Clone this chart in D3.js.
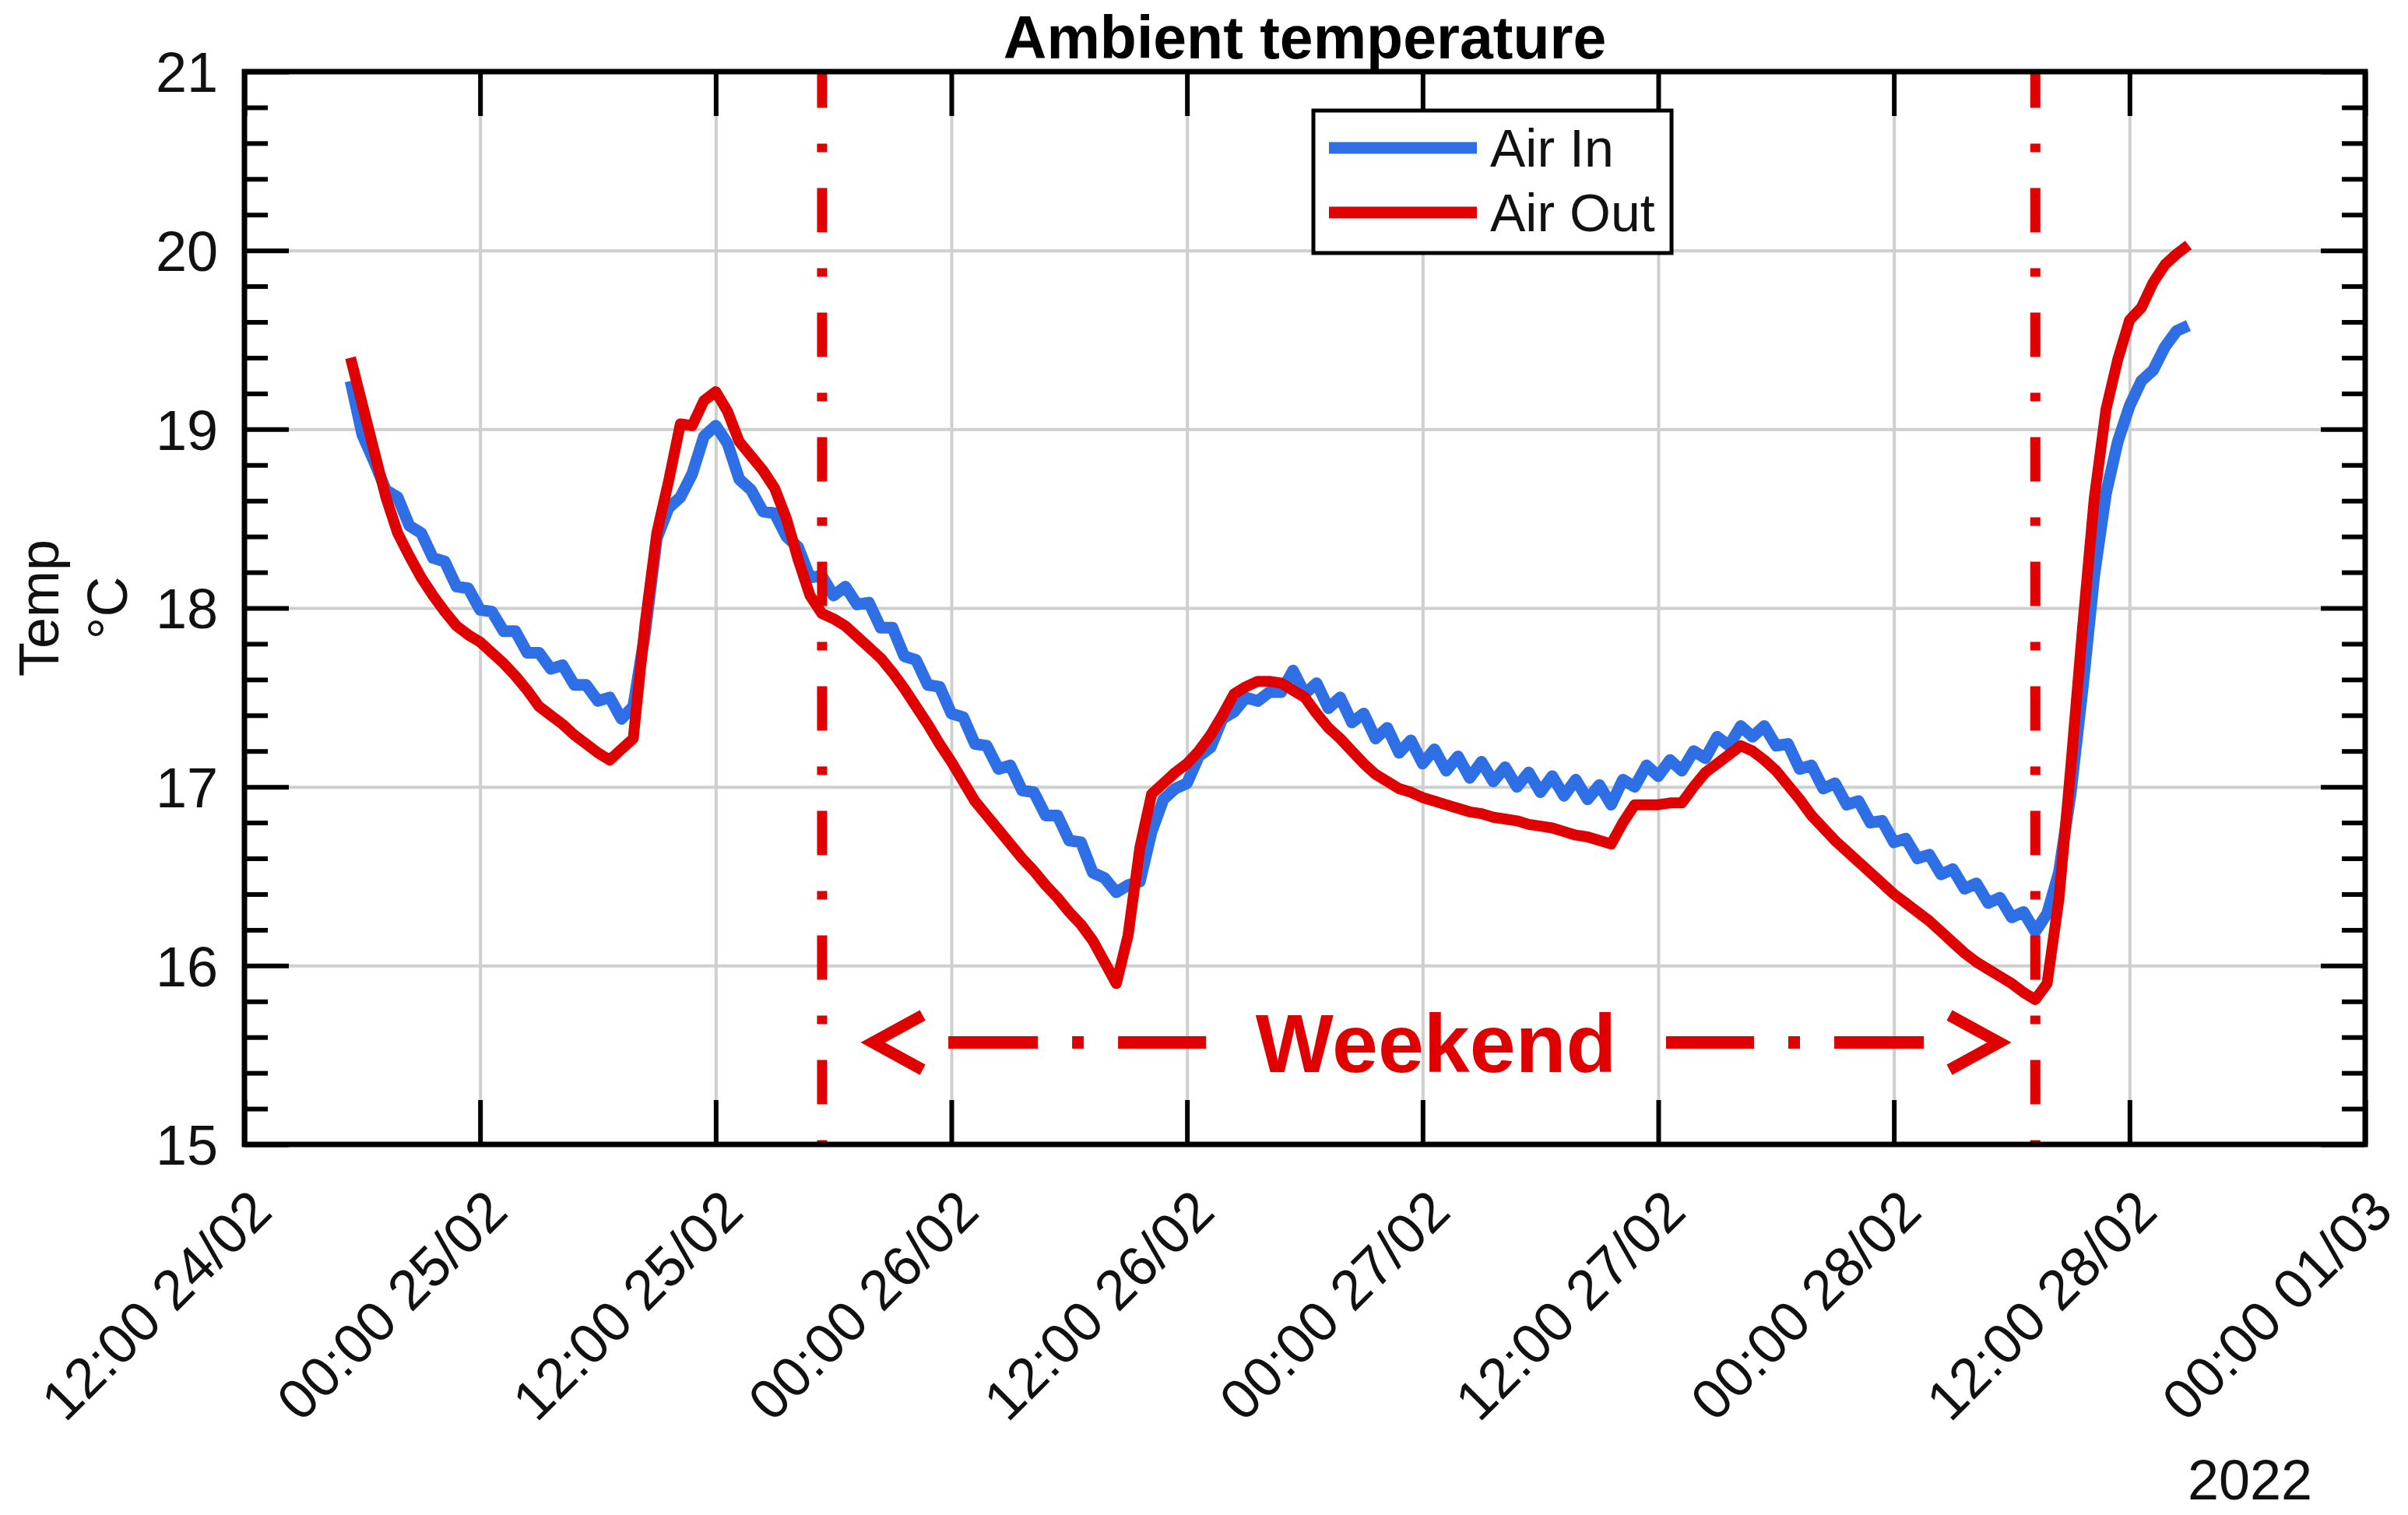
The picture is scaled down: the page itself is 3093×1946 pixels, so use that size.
<!DOCTYPE html>
<html>
<head>
<meta charset="utf-8">
<title>Ambient temperature</title>
<script src="https://d3js.org/d3.v7.min.js"></script>
<style>
  body { margin: 0; background: #fff; }
  svg { display: block; font-family: 'Liberation Sans', Arial, Helvetica, sans-serif; }
</style>
</head>
<body>
<svg id="chart"></svg>
<script>
// logger samples, one every 36 min starting 17:24 on 24/02
var sampleStart = '2022-02-24 17:24';
var sampleStepMin = 36;

var airIn = [
  19.27, 18.97, 18.82, 18.66, 18.62, 18.46, 18.42, 18.28, 18.26, 18.12,
  18.11, 17.99, 17.98, 17.87, 17.87, 17.75, 17.75, 17.66, 17.68, 17.57,
  17.57, 17.48, 17.50, 17.38, 17.45, 17.86, 18.39, 18.56, 18.62, 18.75,
  18.96, 19.02, 18.92, 18.72, 18.66, 18.54, 18.53, 18.40, 18.34, 18.17,
  18.18, 18.07, 18.12, 18.02, 18.03, 17.89, 17.89, 17.73, 17.71, 17.57,
  17.56, 17.41, 17.39, 17.24, 17.23, 17.10, 17.12, 16.98, 16.97, 16.84,
  16.84, 16.70, 16.69, 16.52, 16.49, 16.41, 16.45, 16.47, 16.75, 16.93,
  16.99, 17.02, 17.17, 17.22, 17.38, 17.42, 17.50, 17.48, 17.53, 17.53,
  17.65, 17.52, 17.58, 17.44, 17.50, 17.36, 17.41, 17.27, 17.33, 17.19,
  17.26, 17.13, 17.21, 17.09, 17.17, 17.05, 17.14, 17.03, 17.11, 17.00,
  17.08, 16.97, 17.06, 16.95, 17.04, 16.93, 17.01, 16.90, 17.04, 17.00,
  17.12, 17.06, 17.15, 17.09, 17.20, 17.16, 17.28, 17.23, 17.34, 17.28,
  17.34, 17.23, 17.24, 17.10, 17.12, 16.99, 17.02, 16.90, 16.92, 16.80,
  16.81, 16.69, 16.71, 16.60, 16.62, 16.51, 16.54, 16.43, 16.46, 16.35,
  16.38, 16.27, 16.30, 16.19, 16.29, 16.52, 16.96, 17.54, 18.18, 18.64,
  18.93, 19.13, 19.27, 19.33, 19.46, 19.55, 19.58
];

var airOut = [
  19.40, 19.14, 18.88, 18.62, 18.42, 18.29, 18.17, 18.07, 17.98, 17.90,
  17.85, 17.81, 17.75, 17.69, 17.62, 17.54, 17.45, 17.40, 17.35, 17.29,
  17.24, 17.19, 17.15, 17.21, 17.27, 17.91, 18.42, 18.71, 19.03, 19.02,
  19.16, 19.21, 19.10, 18.93, 18.85, 18.77, 18.67, 18.50, 18.27, 18.07,
  17.97, 17.94, 17.90, 17.84, 17.78, 17.72, 17.64, 17.55, 17.45, 17.35,
  17.24, 17.14, 17.03, 16.92, 16.84, 16.76, 16.68, 16.60, 16.53, 16.45,
  16.38, 16.30, 16.23, 16.14, 16.02, 15.90, 16.17, 16.66, 16.96, 17.02,
  17.08, 17.13, 17.20, 17.29, 17.40, 17.52, 17.56, 17.59, 17.59, 17.58,
  17.54, 17.50, 17.41, 17.33, 17.27, 17.20, 17.13, 17.07, 17.03, 16.99,
  16.97, 16.94, 16.92, 16.90, 16.88, 16.86, 16.85, 16.83, 16.82, 16.81,
  16.79, 16.78, 16.77, 16.75, 16.73, 16.72, 16.70, 16.68, 16.80, 16.90,
  16.90, 16.90, 16.91, 16.91, 17.00, 17.08, 17.13, 17.18, 17.23, 17.20,
  17.15, 17.09, 17.01, 16.93, 16.84, 16.77, 16.70, 16.64, 16.58, 16.52,
  16.46, 16.40, 16.35, 16.30, 16.25, 16.19, 16.13, 16.07, 16.02, 15.98,
  15.94, 15.90, 15.85, 15.81, 15.90, 16.37, 17.10, 17.88, 18.61, 19.11,
  19.39, 19.61, 19.68, 19.82, 19.92, 19.98, 20.03
];

var seriesNames = ['Air In', 'Air Out'];

var xTicks = [
  '2022-02-24 12:00', '2022-02-25 00:00', '2022-02-25 12:00', '2022-02-26 00:00',
  '2022-02-26 12:00', '2022-02-27 00:00', '2022-02-27 12:00', '2022-02-28 00:00',
  '2022-02-28 12:00', '2022-03-01 00:00'
];
var yTicks = [15, 16, 17, 18, 19, 20, 21];
var yMinorTicks = [15.2, 15.4, 15.6, 15.8, 16.2, 16.4, 16.6, 16.8, 17.2, 17.4, 17.6, 17.8,
                   18.2, 18.4, 18.6, 18.8, 19.2, 19.4, 19.6, 19.8, 20.2, 20.4, 20.6, 20.8];

var weekendBounds = ['2022-02-25 17:25', '2022-02-28 07:12'];
var weekendArrow = ['2022-02-25 20:00', '2022-02-28 05:22'];
var weekendArrowTemp = 15.57;
var weekendLabel = 'Weekend';
var titleText = 'Ambient temperature';
var yLabelLines = ['Temp', '\u00B0C'];
var yearLabel = '2022';

var blue = '#2e6fe6';
var red = '#e00000';

var width = 3093;
var height = 1946;
var margin = { top: 92, right: 55, bottom: 476, left: 314 };
var innerWidth = width - margin.left - margin.right;
var innerHeight = height - margin.top - margin.bottom;

var parse = d3.timeParse('%Y-%m-%d %H:%M');
var fmt = d3.timeFormat('%H:%M %d/%m');
var xTickDates = xTicks.map(parse);
var t0 = parse(sampleStart);
var times = airIn.map(function(d, i) { return d3.timeMinute.offset(t0, i * sampleStepMin); });

var svg = d3.select('#chart')
  .attr('width', width)
  .attr('height', height);

svg.append('rect').attr('width', width).attr('height', height).attr('fill', '#fff');

var chart = svg.append('g')
  .attr('transform', 'translate(' + margin.left + ',' + margin.top + ')');

var x = d3.scaleTime()
  .domain([xTickDates[0], xTickDates[xTickDates.length - 1]])
  .range([0, innerWidth]);

var y = d3.scaleLinear()
  .domain([15, 21])
  .range([innerHeight, 0]);

// tick-only axes: drop the domain path and the empty labels
function bare(g) {
  g.select('.domain').remove();
  g.selectAll('text').remove();
}

// grid
var grid = chart.append('g');
grid.append('g')
  .attr('transform', 'translate(0,' + innerHeight + ')')
  .call(d3.axisBottom(x).tickValues(xTickDates).tickSize(-innerHeight))
  .call(bare);
grid.append('g')
  .call(d3.axisLeft(y).tickValues(yTicks).tickSize(-innerWidth))
  .call(bare);
grid.selectAll('line').attr('stroke', '#cfcfcf').attr('stroke-width', 4);

// data
var line = d3.line()
  .x(function(d, i) { return x(times[i]); })
  .y(function(d) { return y(d); });

chart.append('path')
  .datum(airIn)
  .attr('d', line)
  .attr('fill', 'none')
  .attr('stroke', blue)
  .attr('stroke-width', 15)
  .attr('stroke-linejoin', 'round');

chart.append('path')
  .datum(airOut)
  .attr('d', line)
  .attr('fill', 'none')
  .attr('stroke', red)
  .attr('stroke-width', 14)
  .attr('stroke-linejoin', 'round');

// weekend markers
weekendBounds.forEach(function(s) {
  var xx = x(parse(s));
  chart.append('line')
    .attr('x1', xx).attr('x2', xx)
    .attr('y1', innerHeight).attr('y2', 0)
    .attr('stroke', red)
    .attr('stroke-width', 13)
    .attr('stroke-dasharray', '11,46,57,46')
    .attr('stroke-dashoffset', 5.5);
});

var ay = y(weekendArrowTemp);
var axl = x(parse(weekendArrow[0]));
var axr = x(parse(weekendArrow[1]));
var arrow = chart.append('g')
  .attr('stroke', red)
  .attr('fill', 'none');
arrow.append('path')
  .attr('d', 'M' + (axl + 64) + ',' + (ay - 35) + 'L' + axl + ',' + ay + 'L' + (axl + 64) + ',' + (ay + 35))
  .attr('stroke-width', 15);
arrow.append('path')
  .attr('d', 'M' + (axr - 64) + ',' + (ay - 35) + 'L' + axr + ',' + ay + 'L' + (axr - 64) + ',' + (ay + 35))
  .attr('stroke-width', 15);
arrow.append('line')
  .attr('x1', axl + 97).attr('x2', axl + 428)
  .attr('y1', ay).attr('y2', ay)
  .attr('stroke-width', 16)
  .attr('stroke-dasharray', '115,44,15,44');
arrow.append('line')
  .attr('x1', axr - 97).attr('x2', axr - 428)
  .attr('y1', ay).attr('y2', ay)
  .attr('stroke-width', 16)
  .attr('stroke-dasharray', '115,44,15,44');
chart.append('text')
  .attr('x', (axl + axr) / 2)
  .attr('y', ay)
  .attr('dy', '0.36em')
  .attr('text-anchor', 'middle')
  .attr('fill', red)
  .style('font-size', '106px')
  .style('font-weight', 'bold')
  .text(weekendLabel);

// ticks on all four sides, pointing inward
var tickLen = 57;
var minorLen = 30;
var ticks = chart.append('g');
ticks.append('g')
  .attr('transform', 'translate(0,' + innerHeight + ')')
  .call(d3.axisBottom(x).tickValues(xTickDates).tickSize(-tickLen))
  .call(bare);
ticks.append('g')
  .call(d3.axisTop(x).tickValues(xTickDates).tickSize(-tickLen))
  .call(bare);
ticks.append('g')
  .attr('class', 'y-left')
  .call(d3.axisLeft(y).tickValues(yTicks).tickSize(-tickLen).tickPadding(34).tickFormat(d3.format('d')))
  .call(function(g) { g.select('.domain').remove(); });
ticks.append('g')
  .call(d3.axisLeft(y).tickValues(yMinorTicks).tickSize(-minorLen))
  .call(bare);
ticks.append('g')
  .attr('transform', 'translate(' + innerWidth + ',0)')
  .call(d3.axisRight(y).tickValues(yTicks).tickSize(-tickLen))
  .call(bare);
ticks.append('g')
  .attr('transform', 'translate(' + innerWidth + ',0)')
  .call(d3.axisRight(y).tickValues(yMinorTicks).tickSize(-minorLen))
  .call(bare);
ticks.selectAll('line').attr('stroke', '#000').attr('stroke-width', 6);
ticks.selectAll('.y-left text')
  .attr('dy', '0.36em')
  .style('font-size', '72px')
  .style('font-family', "'Liberation Sans', Arial, sans-serif")
  .attr('fill', '#111');

chart.append('rect')
  .attr('width', innerWidth)
  .attr('height', innerHeight)
  .attr('fill', 'none')
  .attr('stroke', '#000')
  .attr('stroke-width', 7);

// rotated x labels
chart.selectAll('.x-label')
  .data(xTickDates)
  .enter()
  .append('text')
  .attr('class', 'x-label')
  .attr('transform', function(d) { return 'translate(' + (x(d) + 2) + ',' + (innerHeight + 53) + ') rotate(-45)'; })
  .attr('text-anchor', 'end')
  .attr('dy', '0.72em')
  .attr('fill', '#111')
  .style('font-size', '72px')
  .text(function(d) { return fmt(d); });

svg.append('text')
  .attr('x', 2890)
  .attr('y', 1926)
  .attr('text-anchor', 'middle')
  .attr('fill', '#111')
  .style('font-size', '72px')
  .text(yearLabel);

// legend
var legend = chart.append('g').attr('transform', 'translate(1373,50)');
legend.append('rect')
  .attr('width', 460).attr('height', 183)
  .attr('fill', '#fff').attr('stroke', '#000').attr('stroke-width', 5);
seriesNames.forEach(function(name, i) {
  var ly = 48 + i * 83;
  legend.append('line')
    .attr('x1', 20).attr('x2', 210)
    .attr('y1', ly).attr('y2', ly)
    .attr('stroke', i === 0 ? blue : red)
    .attr('stroke-width', 15);
  legend.append('text')
    .attr('x', 227).attr('y', ly)
    .attr('dy', '0.35em')
    .attr('fill', '#111')
    .style('font-size', '68px')
    .text(name);
});

// title and y label
svg.append('text')
  .attr('x', margin.left + innerWidth / 2)
  .attr('y', 75)
  .attr('text-anchor', 'middle')
  .style('font-size', '77px')
  .style('font-weight', 'bold')
  .text(titleText);

yLabelLines.forEach(function(s, i) {
  svg.append('text')
    .attr('transform', 'translate(' + (75 + i * 88) + ',' + (margin.top + innerHeight / 2) + ') rotate(-90)')
    .attr('text-anchor', 'middle')
    .attr('fill', '#111')
    .style('font-size', '72px')
    .text(s);
});
</script>
</body>
</html>
